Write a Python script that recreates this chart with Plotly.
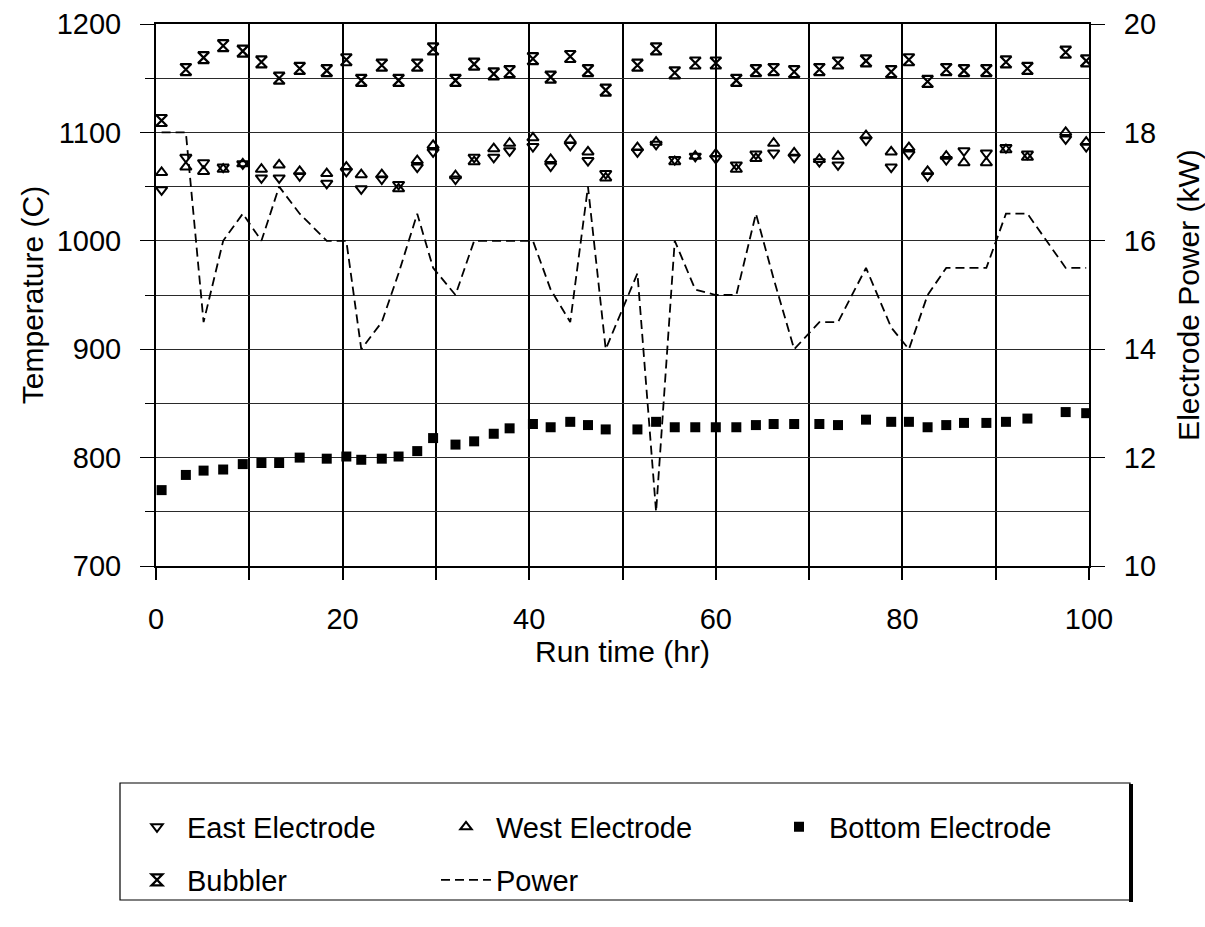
import plotly.graph_objects as go

# Run time of each reading (hr)
run_time = [0.6, 3.2, 5.1, 7.2, 9.3, 11.3, 13.2, 15.4, 18.3, 20.4, 22.0, 24.2, 26.0, 28.0,
            29.7, 32.1, 34.1, 36.2, 37.9, 40.4, 42.3, 44.4, 46.3, 48.2, 51.6, 53.6, 55.6,
            57.8, 60.0, 62.2, 64.3, 66.2, 68.4, 71.1, 73.1, 76.1, 78.8, 80.7, 82.7, 84.7,
            86.6, 89.0, 91.1, 93.4, 97.5, 99.7]

# Temperatures (C)
east_electrode = [1047, 1077, 1072, 1068, 1071, 1058, 1058, 1060, 1053, 1064, 1048, 1057,
                  1052, 1068, 1082, 1057, 1077, 1077, 1083, 1087, 1069, 1088, 1074, 1062,
                  1082, 1089, 1075, 1078, 1076, 1070, 1080, 1081, 1077, 1073, 1070, 1093,
                  1068, 1080, 1060, 1075, 1083, 1081, 1086, 1080, 1094, 1087]
west_electrode = [1063, 1068, 1064, 1066, 1071, 1066, 1070, 1064, 1062, 1068, 1061, 1061,
                  1048, 1074, 1088, 1060, 1073, 1085, 1090, 1095, 1075, 1093, 1082, 1058,
                  1086, 1091, 1073, 1078, 1080, 1066, 1076, 1090, 1081, 1075, 1078, 1097,
                  1082, 1086, 1064, 1078, 1072, 1072, 1084, 1077, 1100, 1091]
bottom_electrode = [770, 784, 788, 789, 794, 795, 795, 800, 799, 801, 798, 799, 801, 806,
                    818, 812, 815, 822, 827, 831, 828, 833, 830, 826, 826, 833, 828, 828,
                    828, 828, 830, 831, 831, 831, 830, 835, 833, 833, 828, 830, 832, 832,
                    833, 836, 842, 841]
bubbler = [1111, 1158, 1169, 1180, 1175, 1165, 1150, 1159, 1157, 1167, 1148, 1162, 1148,
           1162, 1177, 1148, 1163, 1154, 1156, 1168, 1151, 1170, 1157, 1139, 1162, 1177,
           1155, 1164, 1164, 1148, 1157, 1158, 1156, 1158, 1164, 1166, 1156, 1167, 1147,
           1158, 1157, 1157, 1165, 1159, 1174, 1166]

# Electrode power (kW)
power = [18.0, 18.0, 14.5, 16.0, 16.5, 16.0, 17.0, 16.5, 16.0, 16.0, 14.0, 14.5, 15.4, 16.5,
         15.5, 15.0, 16.0, 16.0, 16.0, 16.0, 15.1, 14.5, 17.0, 14.0, 15.4, 11.0, 16.0, 15.1,
         15.0, 15.0, 16.5, 15.3, 14.0, 14.5, 14.5, 15.5, 14.4, 14.0, 15.0, 15.5, 15.5, 15.5,
         16.5, 16.5, 15.5, 15.5]

FONT = "Liberation Sans, Arial, sans-serif"
W, H = 1205, 927
L, R, T, B = 156, 116, 24, 361
PW, PH = W - L - R, H - T - B


def px_x(px):
    return (px - L) / PW


def px_y(py):
    return (H - B - py) / PH


fig = go.Figure()

fig.add_trace(go.Scatter(
    x=run_time, y=power, mode="lines", name="Power", yaxis="y2", legend="legend5",
    line=dict(color="black", width=1.8, dash="9px,5px"),
))
fig.add_trace(go.Scatter(
    x=run_time, y=east_electrode, mode="markers", name="East Electrode", legend="legend",
    marker=dict(symbol="triangle-down-open", size=10, color="black", line=dict(width=2)),
))
fig.add_trace(go.Scatter(
    x=run_time, y=west_electrode, mode="markers", name="West Electrode", legend="legend2",
    marker=dict(symbol="triangle-up-open", size=10, color="black", line=dict(width=2)),
))
fig.add_trace(go.Scatter(
    x=run_time, y=bottom_electrode, mode="markers", name="Bottom Electrode", legend="legend3",
    marker=dict(symbol="square", size=10, color="black"),
))
fig.add_trace(go.Scatter(
    x=run_time, y=bubbler, mode="markers", name="Bubbler", legend="legend4",
    marker=dict(symbol="hourglass-open", size=11, color="black", line=dict(width=2.2)),
))

legend_font = dict(family=FONT, size=29, color="black")


def legend_at(sym_x, row_y):
    return dict(
        x=(sym_x - 30) / W, y=1 - row_y / H, xref="container", yref="container",
        xanchor="left", yanchor="middle", bgcolor="rgba(0,0,0,0)", borderwidth=0,
        font=legend_font, itemwidth=50, orientation="h",
    )


fig.update_layout(
    width=W, height=H,
    margin=dict(l=L, r=R, t=T, b=B, autoexpand=False),
    paper_bgcolor="white", plot_bgcolor="white",
    font=dict(family=FONT, size=29, color="black"),
    showlegend=True,
    legend=legend_at(157, 827),
    legend2=legend_at(466, 827),
    legend3=legend_at(799, 827),
    legend4=legend_at(157, 880),
    legend5=legend_at(466, 880),
    xaxis=dict(
        range=[0, 100], dtick=20, tick0=0,
        showline=True, mirror=True, linecolor="black", linewidth=2,
        ticks="outside", ticklen=12, tickwidth=1.5, tickcolor="black",
        showgrid=True, gridcolor="black", gridwidth=1.5,
        minor=dict(dtick=10, ticks="outside", ticklen=12, tickcolor="black",
                   showgrid=True, gridcolor="black", gridwidth=1.5),
        tickfont=dict(size=29), ticklabelstandoff=14,
        title=dict(text="Run time (hr)", font=dict(size=30), standoff=6),
        zeroline=False, automargin=False,
    ),
    yaxis=dict(
        range=[700, 1200], dtick=100, tick0=700,
        showline=True, linecolor="black", linewidth=2,
        ticks="outside", ticklen=14, tickwidth=1.2, tickcolor="black",
        showgrid=True, gridcolor="#2a2a2a", gridwidth=1,
        minor=dict(dtick=50, ticks="outside", ticklen=9, tickcolor="black",
                   showgrid=True, gridcolor="#2a2a2a", gridwidth=1),
        tickfont=dict(size=29), ticklabelstandoff=13,
        title=dict(text="Temperature (C)", font=dict(size=30), standoff=4),
        zeroline=False, automargin=False,
    ),
    yaxis2=dict(
        range=[10, 20], dtick=2, tick0=10, overlaying="y", side="right",
        showline=True, linecolor="black", linewidth=2,
        ticks="outside", ticklen=14, tickwidth=1.2, tickcolor="black",
        showgrid=False, zeroline=False,
        tickfont=dict(size=29), ticklabelstandoff=13,
        title=dict(text="Electrode Power (kW)", font=dict(size=30), standoff=26),
        automargin=False,
    ),
    shapes=[
        dict(type="rect", xref="paper", yref="paper",
             x0=px_x(120), x1=px_x(1130), y0=px_y(900), y1=px_y(783),
             line=dict(color="black", width=1.2), fillcolor="rgba(0,0,0,0)", layer="below"),
        dict(type="line", xref="paper", yref="paper",
             x0=px_x(1131), x1=px_x(1131), y0=px_y(902), y1=px_y(784),
             line=dict(color="black", width=4)),
    ],
)

fig.write_html("out.html")
